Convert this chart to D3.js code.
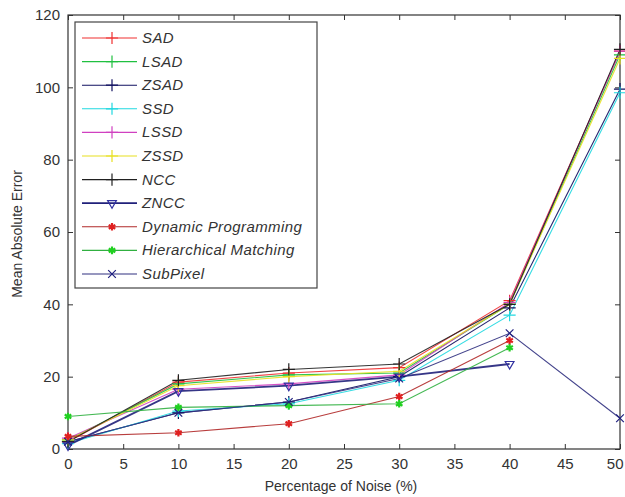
<!DOCTYPE html>
<html>
<head>
<meta charset="utf-8">
<script src="https://cdn.jsdelivr.net/npm/d3@7"></script>
<style>
  body { margin: 0; background: #fff; }
  text { font-family: "Liberation Sans", Arial, sans-serif; fill: #333; }
</style>
</head>
<body>
<div id="chart"></div>
<script>
// noise levels (%)
var noise = [0, 10, 20, 30, 40, 50];
var xTicks = [0, 5, 10, 15, 20, 25, 30, 35, 40, 45, 50];
var yTicks = [0, 20, 40, 60, 80, 100, 120];

// mean absolute error per method
var names = ["SAD", "LSAD", "ZSAD", "SSD", "LSSD", "ZSSD", "NCC", "ZNCC",
             "Dynamic Programming", "Hierarchical Matching", "SubPixel"];
var sad   = [2.0, 18.5, 21.0, 22.5, 41.0, 110.0];
var lsad  = [2.5, 18.0, 20.5, 21.0, 40.0, 109.0];
var zsad  = [2.0, 10.0, 13.0, 20.0, 39.0, 99.5];
var ssd   = [1.5, 10.5, 12.5, 19.0, 37.0, 98.5];
var lssd  = [3.0, 16.5, 18.0, 20.5, 40.5, 110.0];
var zssd  = [2.5, 17.5, 20.0, 21.5, 40.0, 108.0];
var ncc   = [2.0, 19.0, 22.0, 23.5, 40.0, 110.5];
var zncc  = [1.0, 16.0, 17.5, 20.0, 23.5];
var dynp  = [3.5, 4.5, 7.0, 14.5, 30.0];
var hier  = [9.0, 11.5, 12.0, 12.5, 28.0];
var subpx = [2.0, 10.0, 13.0, 19.5, 32.0, 8.5];

var seriesValues = [sad, lsad, zsad, ssd, lssd, zssd, ncc, zncc, dynp, hier, subpx];
var lineColors   = ["#f03030", "#20c040", "#101060", "#20d8e0", "#d040c0", "#e8e020", "#202020", "#20207a", "#b02828", "#30b040", "#303080"];
var markColors   = ["#f03030", "#20c040", "#101060", "#20d8e0", "#d040c0", "#e8e020", "#202020", "#3030a0", "#e02020", "#20d020", "#202080"];
var markers      = ["plus", "plus", "plus", "plus", "plus", "plus", "plus", "tri", "star", "star", "times"];

var W = 625, H = 497;
var margin = {top: 15, right: 5, bottom: 48, left: 68};
var w = W - margin.left - margin.right;
var h = H - margin.top - margin.bottom;

var svg = d3.select("#chart").append("svg")
    .attr("width", W)
    .attr("height", H);
var g = svg.append("g")
    .attr("transform", "translate(" + margin.left + "," + margin.top + ")");

var x = d3.scaleLinear().domain([0, 50]).range([0, w]);
var y = d3.scaleLinear().domain([0, 120]).range([h, 0]);

// MATLAB style box with inward ticks
function styleAxis(sel) {
    sel.select(".domain").remove();
    sel.selectAll(".tick line").attr("stroke", "#333");
    sel.selectAll("text").style("font-size", "15px").attr("fill", "#333");
}
var xAxisG = g.append("g").attr("transform", "translate(0," + h + ")")
    .call(d3.axisBottom(x).tickValues(xTicks).tickSizeInner(-5).tickSizeOuter(0).tickPadding(9))
    .call(styleAxis);
// last label sits right at the page edge; keep it inside
xAxisG.selectAll(".tick text").filter(function(d) { return d === 50; })
    .attr("text-anchor", "end").attr("dx", 3);
g.append("g")
    .call(d3.axisTop(x).tickValues(xTicks).tickSizeInner(-5).tickSizeOuter(0).tickFormat(""))
    .call(styleAxis);
g.append("g")
    .call(d3.axisLeft(y).tickValues(yTicks).tickSizeInner(-5).tickSizeOuter(0).tickPadding(8))
    .call(styleAxis);
g.append("g").attr("transform", "translate(" + w + ",0)")
    .call(d3.axisRight(y).tickValues(yTicks).tickSizeInner(-5).tickSizeOuter(0).tickFormat(""))
    .call(styleAxis);
g.append("rect")
    .attr("width", w).attr("height", h)
    .attr("fill", "none").attr("stroke", "#333").attr("stroke-width", 1.2);

// axis titles
svg.append("text")
    .attr("x", margin.left + w / 2 - 3)
    .attr("y", H - 6)
    .attr("text-anchor", "middle")
    .style("font-size", "14px")
    .text("Percentage of Noise (%)");
svg.append("text")
    .attr("transform", "translate(22," + 234 + ") rotate(-90)")
    .attr("text-anchor", "middle")
    .style("font-size", "14px")
    .text("Mean Absolute Error");

function symbolPath(kind, size) {
    if (kind === "plus") return d3.symbol(d3.symbolPlus, size)();
    if (kind === "times") return d3.symbol(d3.symbolTimes, size)();
    if (kind === "star") return d3.symbol(d3.symbolAsterisk, size)();
    return d3.symbol(d3.symbolTriangle2, size)();
}
function drawMarker(sel, kind, color, px, py) {
    var s = sel.append("path")
        .attr("d", symbolPath(kind, kind === "tri" ? 55 : (kind === "plus" ? 50 : 40)))
        .attr("fill", "none")
        .attr("stroke", color)
        .attr("stroke-width", kind === "star" ? 2.2 : 1.2);
    if (kind === "tri") s.attr("transform", "translate(" + px + "," + py + ") rotate(180)");
    else s.attr("transform", "translate(" + px + "," + py + ")");
}

var line = d3.line()
    .x(function(d, i) { return x(noise[i]); })
    .y(function(d) { return y(d); });

seriesValues.forEach(function(vals, k) {
    g.append("path")
        .datum(vals)
        .attr("d", line)
        .attr("fill", "none")
        .attr("stroke", lineColors[k])
        .attr("stroke-width", k === 7 ? 1.8 : 1.1)
        .attr("opacity", 0.9);
});
seriesValues.forEach(function(vals, k) {
    vals.forEach(function(v, i) {
        drawMarker(g, markers[k], markColors[k], x(noise[i]), y(v));
    });
});

// legend
var lg = svg.append("g").attr("transform", "translate(75,22)");
lg.append("rect")
    .attr("width", 242).attr("height", 266)
    .attr("fill", "#fff").attr("stroke", "#444").attr("stroke-width", 1.2);
names.forEach(function(name, k) {
    var ly = 16 + k * 23.6;
    lg.append("line")
        .attr("x1", 7).attr("x2", 62)
        .attr("y1", ly).attr("y2", ly)
        .attr("stroke", lineColors[k])
        .attr("stroke-width", k === 7 ? 1.8 : 1.1);
    drawMarker(lg, markers[k], markColors[k], 37, ly);
    lg.append("text")
        .attr("x", 67)
        .attr("y", ly + 5)
        .style("font-size", "15px")
        .style("font-style", "italic")
        .style("letter-spacing", "0.4px")
        .attr("fill", "#444")
        .text(name);
});
</script>
</body>
</html>
